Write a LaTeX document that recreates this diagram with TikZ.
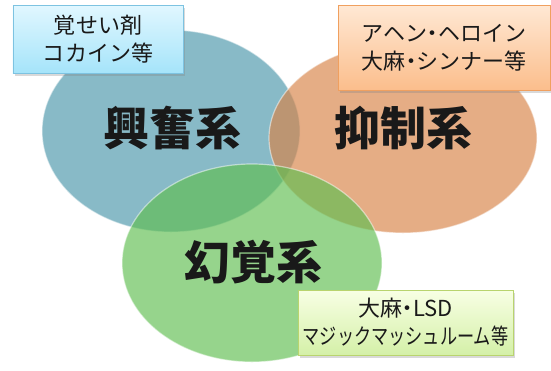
\documentclass[tikz,border=0pt]{standalone}
\usepackage{fontspec}
\setmainfont{Noto Sans CJK JP}
\usetikzlibrary{shapes.geometric,shadows}
\definecolor{blueE}{RGB}{75,150,170}
\definecolor{orangeE}{RGB}{215,130,70}
\definecolor{greenE}{RGB}{95,190,80}
\definecolor{txt}{RGB}{25,25,25}
\newcommand{\nakaguro}{\makebox[0.5em]{・}}
\tikzset{
  venn/.style={ellipse, inner sep=0pt, fill opacity=0.66, draw opacity=0.5, line width=1.2bp},
  bigtxt/.style={font=\fontsize{46bp}{50bp}\selectfont\bfseries, text=txt},
  infobox/.style={rectangle, inner sep=0pt, line width=0.8bp, align=center, text=txt,
    font=\fontsize{22bp}{28bp}\selectfont,
    drop shadow={shadow xshift=2bp, shadow yshift=-3bp, opacity=0.3}},
}
\begin{document}
\begin{tikzpicture}[x=1bp,y=-1bp]
\useasboundingbox (0,0) rectangle (551,370);
\node[venn, fill=blueE, draw=white, minimum width=258bp, minimum height=202bp] (kofun) at (171,131) {};
\node[venn, fill=orangeE, draw=white, minimum width=268bp, minimum height=190bp] (yokusei) at (403,138) {};
\node[venn, fill=greenE, draw=white, minimum width=260bp, minimum height=198bp] (genkaku) at (252,263) {};
\node[bigtxt] (t1) at (172,128) {興奮系};
\node[bigtxt] (t2) at (403,128) {抑制系};
\node[bigtxt] (t3) at (253,262) {幻覚系};
\node[infobox, draw={rgb,255:red,125;green,195;blue,225}, top color={rgb,255:red,225;green,247;blue,255}, bottom color={rgb,255:red,165;green,228;blue,250}, minimum width=170bp, minimum height=68bp] (b1) at (98,39) {覚せい剤\\コカイン等};
\node[infobox, draw={rgb,255:red,240;green,160;blue,95}, top color={rgb,255:red,255;green,232;blue,212}, bottom color={rgb,255:red,251;green,190;blue,140}, minimum width=212bp, minimum height=85bp] (b2) at (444,47.5) {アヘン\nakaguro ヘロイン\\大麻\nakaguro シンナー等};
\node[infobox, draw={rgb,255:red,185;green,212;blue,110}, top color={rgb,255:red,248;green,255;blue,228}, bottom color={rgb,255:red,212;green,240;blue,168}, minimum width=215bp, minimum height=65bp] (b3) at (405.5,322.5) {大麻\nakaguro LSD\\\scalebox{0.78}[1]{マジックマッシュルーム等}};
\end{tikzpicture}
\end{document}
